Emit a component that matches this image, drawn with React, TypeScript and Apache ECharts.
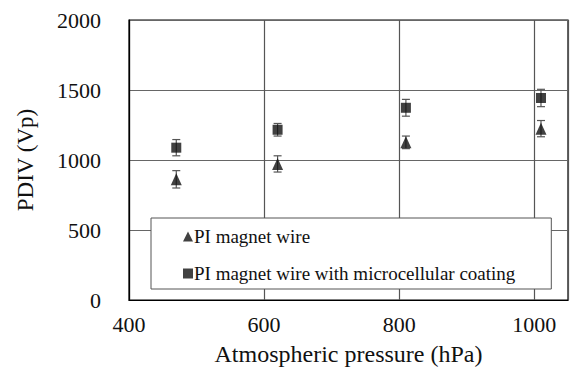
import React, { useEffect, useRef } from "react";
import * as echarts from "echarts";

const pressures = [470, 620, 810, 1010];
const piWire = [862, 972, 1126, 1224];
const piWireErr = [62, 58, 45, 58];
const coated = [1088, 1216, 1373, 1443];
const coatedErr = [58, 45, 60, 62];
const xTicks = [400, 600, 800, 1000];
const yTicks = [0, 500, 1000, 1500, 2000];

const FONT = "Liberation Serif";

function errorSeries(name: string, vals: number[], errs: number[]) {
  const data = pressures.map((p, i) => [p, vals[i] - errs[i], vals[i] + errs[i]]);
  return {
    type: "custom",
    name: name + "-err",
    silent: true,
    z: 1,
    data,
    renderItem: (params: any, api: any) => {
      const x = api.value(0);
      const lo = api.coord([x, api.value(1)]);
      const hi = api.coord([x, api.value(2)]);
      const w = 4;
      const style = { stroke: "#555", lineWidth: 1.2 };
      return {
        type: "group",
        children: [
          { type: "line", shape: { x1: lo[0], y1: lo[1], x2: hi[0], y2: hi[1] }, style },
          { type: "line", shape: { x1: lo[0] - w, y1: lo[1], x2: lo[0] + w, y2: lo[1] }, style },
          { type: "line", shape: { x1: hi[0] - w, y1: hi[1], x2: hi[0] + w, y2: hi[1] }, style },
        ],
      };
    },
  };
}

export default function App() {
  const ref = useRef<HTMLDivElement>(null);
  useEffect(() => {
    const chart = echarts.init(ref.current!, null, { renderer: "svg" });
    chart.setOption({
      animation: false,
      backgroundColor: "#fff",
      textStyle: { fontFamily: FONT },
      grid: {
        left: 129,
        top: 20,
        width: 444,
        height: 280,
        show: true,
        borderColor: "#000",
        borderWidth: 1.2,
      },
      legend: {
        left: 151,
        top: 218,
        orient: "vertical",
        data: ["PI magnet wire", "PI magnet wire with microcellular coating"],
        backgroundColor: "#fff",
        borderColor: "#555",
        borderWidth: 1,
        borderRadius: 0,
        padding: [9, 36, 6, 32],
        itemWidth: 10,
        itemHeight: 10,
        itemGap: 18,
        textStyle: { fontFamily: FONT, fontSize: 19, color: "#111", padding: [0, 0, 0, -4] },
      },
      xAxis: {
        type: "value",
        min: 400,
        max: 1050,
        interval: 200,
        name: "Atmospheric pressure (hPa)",
        nameLocation: "middle",
        nameGap: 42,
        nameTextStyle: { fontFamily: FONT, fontSize: 24, color: "#111" },
        axisLine: { show: true, lineStyle: { color: "#000", width: 1.2 } },
        axisTick: { show: false },
        axisLabel: {
          fontFamily: FONT,
          fontSize: 22,
          color: "#111",
          margin: 13,
          formatter: (v: number) => (xTicks.includes(v) ? String(v) : ""),
        },
        splitLine: { show: true, lineStyle: { color: "#555", width: 1.2 } },
      },
      yAxis: {
        type: "value",
        min: 0,
        max: 2000,
        interval: 500,
        name: "PDIV (Vp)",
        nameLocation: "middle",
        nameGap: 92,
        nameTextStyle: { fontFamily: FONT, fontSize: 23, color: "#111" },
        axisLine: { show: true, lineStyle: { color: "#000", width: 1.2 } },
        axisTick: { show: false },
        axisLabel: {
          fontFamily: FONT,
          fontSize: 22,
          color: "#111",
          margin: 28,
          formatter: (v: number) => (yTicks.includes(v) ? String(v) : ""),
        },
        splitLine: { show: true, lineStyle: { color: "#666", width: 1.2 } },
      },
      series: [
        errorSeries("PI magnet wire", piWire, piWireErr),
        errorSeries("coated", coated, coatedErr),
        {
          type: "scatter",
          name: "PI magnet wire",
          symbol: "triangle",
          symbolSize: [11, 12],
          itemStyle: { color: "#111" },
          z: 3,
          data: pressures.map((p, i) => [p, piWire[i]]),
        },
        {
          type: "scatter",
          name: "PI magnet wire with microcellular coating",
          symbol: "rect",
          symbolSize: 10,
          itemStyle: { color: "#111" },
          z: 3,
          data: pressures.map((p, i) => [p, coated[i]]),
        },
      ],
    });
    return () => chart.dispose();
  }, []);
  return (
    <div
      ref={ref}
      style={{ position: "fixed", left: 0, top: 0, width: 571, height: 381 }}
    />
  );
}
